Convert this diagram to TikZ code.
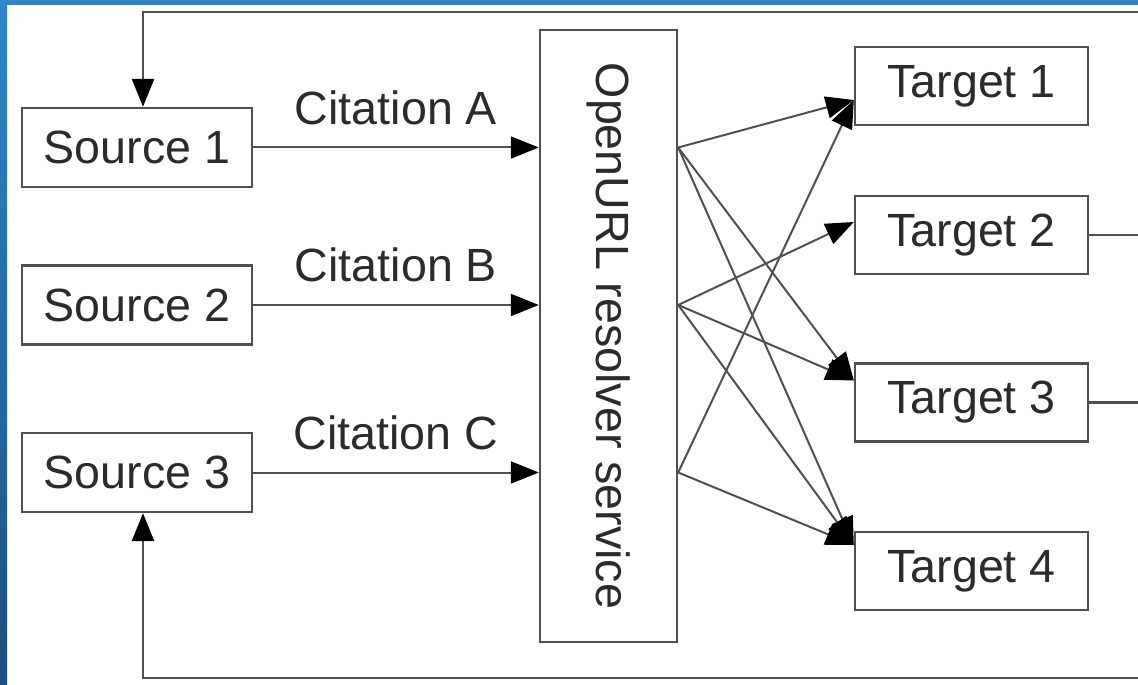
\documentclass[tikz,border=0pt]{standalone}
\usepackage{fontspec}
\setmainfont{Liberation Sans}
\usepackage{graphicx}
\usetikzlibrary{arrows.meta}
\definecolor{frameblue}{HTML}{2E86C6}
\definecolor{framedark}{HTML}{1F4E82}
\definecolor{linegray}{HTML}{505050}
\definecolor{textgray}{HTML}{2B2B2B}
\tikzstyle{box}=[draw=linegray, line width=1.2pt, fill=white, text=textgray, font=\fontsize{23.3}{28}\selectfont, inner sep=0pt]
\tikzstyle{srcbox}=[box, minimum width=115pt, minimum height=39.5pt]
\tikzstyle{tgtbox}=[box, minimum width=116.5pt, minimum height=39pt]
\tikzstyle{cite}=[text=textgray, font=\fontsize{23.3}{28}\selectfont, inner sep=0pt]
\tikzstyle{tip}=[-{Triangle[length=14pt, width=11pt, color=black]}]
\tikzstyle{link}=[draw=linegray, line width=1pt, tip]
\tikzstyle{feedback}=[draw=linegray, line width=1.3pt]

\begin{document}
\begin{tikzpicture}[x=0.5pt, y=-0.5pt]
    \useasboundingbox (0,0) rectangle (1138,684);
% Frame
    \fill[white] (0,0) rectangle (1138,684);
    \shade[top color=frameblue, bottom color=framedark] (0,0) rectangle (7,684);
    \fill[frameblue] (0,0) rectangle (1138,5);
% Sources
    \node[srcbox] (src1) at (137,147.5) {Source 1};
    \node[srcbox] (src2) at (137,305) {Source 2};
    \node[srcbox] (src3) at (137,472.5) {Source 3};
% Resolver
    \node[box, minimum width=68.5pt, minimum height=306pt] (res) at (608.5,336) {\rotatebox{-90}{OpenURL resolver service}};
% Targets
    \node[tgtbox] (tgt1) at (971.5,86) {Target 1};
    \node[tgtbox] (tgt2) at (971.5,235) {Target 2};
    \node[tgtbox] (tgt3) at (971.5,402.5) {Target 3};
    \node[tgtbox] (tgt4) at (971.5,571) {Target 4};
% Citations
    \draw[link] (src1.east) -- (src1.east -| res.west) node[cite, midway, above=11pt] {Citation A};
    \draw[link] (src2.east) -- (src2.east -| res.west) node[cite, midway, above=11pt] {Citation B};
    \draw[link] (src3.east) -- (src3.east -| res.west) node[cite, midway, above=11pt] {Citation C};
% Resolved links
    \draw[link] (res.east |- src1) -- ([yshift=-7pt]tgt1.west);
    \draw[link] (res.east |- src1) -- ([yshift=11pt]tgt3.west);
    \draw[link] (res.east |- src1) -- ([yshift=13pt]tgt4.west);
    \draw[link] (res.east |- src2) -- ([yshift=6.5pt]tgt2.west);
    \draw[link] (res.east |- src2) -- ([yshift=11pt]tgt3.west);
    \draw[link] (res.east |- src2) -- ([yshift=13pt]tgt4.west);
    \draw[link] (res.east |- src3) -- ([yshift=-7pt]tgt1.west);
    \draw[link] (res.east |- src3) -- ([yshift=13pt]tgt4.west);
% Feedback
    \coordinate (fbtop) at (1138,12);
    \coordinate (fbbot) at (1138,678);
    \draw[feedback, tip] (fbtop) -| ([xshift=3pt]src1.north);
    \draw[feedback, tip] (fbbot) -| ([xshift=3pt]src3.south);
    \draw[feedback] (tgt2.east) -- (tgt2.east -| fbtop);
    \draw[feedback] (tgt3.east) -- (tgt3.east -| fbtop);
\end{tikzpicture}
\end{document}
